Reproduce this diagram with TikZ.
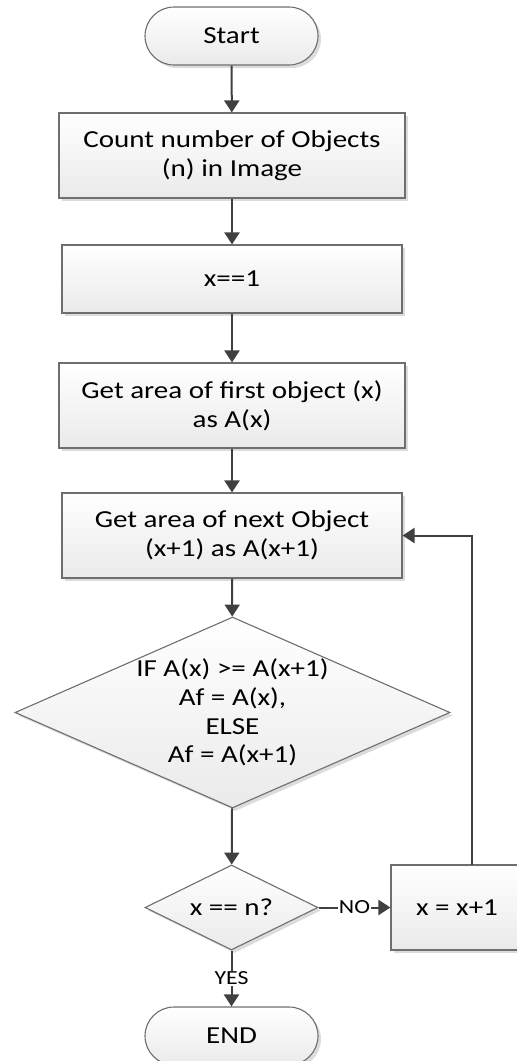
\documentclass[tikz,border=0pt]{standalone}
\usepackage{fontspec}
\setmainfont{Carlito}[FakeStretch=1.19]
\usetikzlibrary{shapes.geometric,arrows.meta,shadows}
\definecolor{linecol}{HTML}{404040}
\definecolor{boxgray}{HTML}{6E6E6E}
\definecolor{fillgray}{HTML}{EAEAEA}
\definecolor{shadowgray}{HTML}{DCDCDC}
\begin{document}
\begin{tikzpicture}[x=1pt,y=-1pt,
  base/.style={draw=boxgray, line width=1.1pt, top color=white, bottom color=fillgray,
    drop shadow={shadow xshift=3pt,shadow yshift=-3pt,fill=shadowgray,opacity=1},
    font=\fontsize{24.4}{28.7}\selectfont, align=center, inner sep=0pt, text=black},
  procbox/.style={base, rectangle},
  term/.style={base, rectangle, rounded corners=29pt, minimum width=173pt, minimum height=58pt},
  decision/.style={base, diamond, inner sep=-6pt},
  arrow/.style={draw=linecol, line width=2pt, -{Triangle[length=12pt,width=15pt]}, color=linecol},
  lbl/.style={fill=white, inner sep=1pt, font=\fontsize{20}{22}\selectfont, text=black}
]
\useasboundingbox (0,0) rectangle (517,1061);
\clip (0,0) rectangle (517,1061);
\node[term] (start) at (231.5,36) {Start};
\node[procbox, minimum width=346pt, minimum height=85pt] (count) at (232,155.5) {Count number of Objects\\(n) in Image};
\node[procbox, minimum width=340pt, minimum height=68pt] (init) at (232,279) {x==1};
\node[procbox, minimum width=346pt, minimum height=85pt] (first) at (232,405.5) {Get area of first object (x)\\as A(x)};
\node[procbox, minimum width=340pt, minimum height=85pt] (next) at (232,535.5) {Get area of next Object\\(x+1) as A(x+1)};
\node[decision, shape aspect=2.28, minimum width=435pt, minimum height=191pt] (cmp) at (232.5,712.5) {IF A(x) >= A(x+1)\\Af = A(x),\\ELSE\\Af = A(x+1)};
\node[decision, shape aspect=2, minimum width=173pt, minimum height=85pt] (check) at (231.5,907.5) {x == n?};
\node[procbox, minimum width=132pt, minimum height=85pt] (inc) at (457,907.5) {x = x+1};
\node[term] (end) at (231.5,1036) {END};
\coordinate (loopbot) at (472,865);
\draw[arrow] (start) -- (count);
\draw[arrow] (count) -- (init);
\draw[arrow] (init) -- (first);
\draw[arrow] (first) -- (next);
\draw[arrow] (next) -- (cmp);
\draw[arrow] (cmp) -- (check);
\draw[arrow] (check.east) -- node[lbl] (no) {NO} (inc.west);
\draw[arrow] (check.south) -- node[lbl] (yes) {YES} (end.north);
\draw[arrow] (loopbot) |- (next.east);
\end{tikzpicture}
\end{document}
